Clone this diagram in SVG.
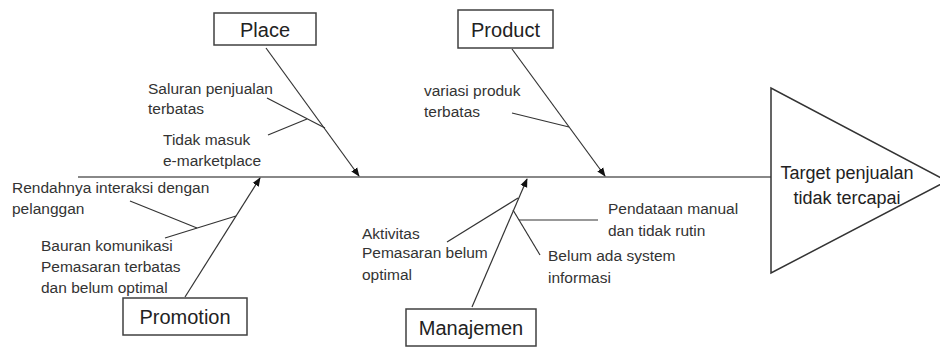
<svg xmlns="http://www.w3.org/2000/svg" width="940" height="349" viewBox="0 0 940 349">
<defs>
<style>
.box{fill:#fff;stroke:#404040;stroke-width:1.5}
.lbl{font-family:"Liberation Sans",Arial,sans-serif;font-size:20px;fill:#222;text-anchor:middle}
.txt{font-family:"Liberation Sans",Arial,sans-serif;font-size:15.5px;fill:#333}
.br{stroke:#333;stroke-width:1.2;fill:none}
.spine{stroke:#888;stroke-width:2;fill:none}
</style>
<marker id="ah" viewBox="0 0 10 10" refX="9" refY="5" markerWidth="9" markerHeight="9" markerUnits="userSpaceOnUse" orient="auto">
<path d="M0,1 L10,5 L0,9 z" fill="#111"/>
</marker>
</defs>
<rect width="940" height="349" fill="#fff"/>
<g id="connectors">
<line class="spine" x1="78" y1="177" x2="771" y2="177"/>
<line class="br" x1="266" y1="48" x2="359" y2="176" marker-end="url(#ah)"/>
<line class="br" x1="267" y1="98" x2="325" y2="128"/>
<line class="br" x1="268" y1="135" x2="307" y2="119"/>
<line class="br" x1="512" y1="49" x2="605" y2="176" marker-end="url(#ah)"/>
<line class="br" x1="512" y1="113" x2="569" y2="127"/>
<line class="br" x1="185" y1="297" x2="260" y2="178" marker-end="url(#ah)"/>
<line class="br" x1="165" y1="238" x2="236" y2="216"/>
<line class="br" x1="130" y1="201" x2="197" y2="228"/>
<line class="br" x1="472" y1="307" x2="527" y2="179" marker-end="url(#ah)"/>
<line class="br" x1="447" y1="242" x2="518" y2="198"/>
<line class="br" x1="513" y1="210" x2="540" y2="255"/>
<line class="br" x1="519" y1="220" x2="598" y2="220"/>
</g>
<g id="effect">
<polygon points="771,88 771,273 947,181" fill="#fff" stroke="#333" stroke-width="1.5"/>
<text class="lbl" x="847" y="179" style="font-size:18px">Target penjualan</text>
<text class="lbl" x="847" y="204" style="font-size:18px">tidak tercapai</text>
</g>
<g id="place">
<rect class="box" x="214" y="13" width="102" height="32"/>
<text class="lbl" x="265" y="37">Place</text>
</g>
<g id="product">
<rect class="box" x="458" y="10" width="95" height="38"/>
<text class="lbl" x="505.5" y="37">Product</text>
</g>
<g id="promotion">
<rect class="box" x="123" y="298" width="124" height="37"/>
<text class="lbl" x="185" y="324">Promotion</text>
</g>
<g id="manajemen">
<rect class="box" x="406" y="309" width="130" height="37"/>
<text class="lbl" x="471" y="335">Manajemen</text>
</g>
<g id="causes">
<text class="txt" x="148" y="94">Saluran penjualan</text>
<text class="txt" x="148" y="114">terbatas</text>
<text class="txt" x="163" y="145">Tidak masuk</text>
<text class="txt" x="163" y="166">e-marketplace</text>
<text class="txt" x="424" y="96">variasi produk</text>
<text class="txt" x="424" y="117">terbatas</text>
<text class="txt" x="12" y="193">Rendahnya interaksi dengan</text>
<text class="txt" x="12" y="214">pelanggan</text>
<text class="txt" x="41" y="251">Bauran komunikasi</text>
<text class="txt" x="41" y="272">Pemasaran terbatas</text>
<text class="txt" x="41" y="293">dan belum optimal</text>
<text class="txt" x="362" y="239">Aktivitas</text>
<text class="txt" x="362" y="258">Pemasaran belum</text>
<text class="txt" x="362" y="280">optimal</text>
<text class="txt" x="608" y="214">Pendataan manual</text>
<text class="txt" x="608" y="236">dan tidak rutin</text>
<text class="txt" x="548" y="261">Belum ada system</text>
<text class="txt" x="548" y="283">informasi</text>
</g>
</svg>
